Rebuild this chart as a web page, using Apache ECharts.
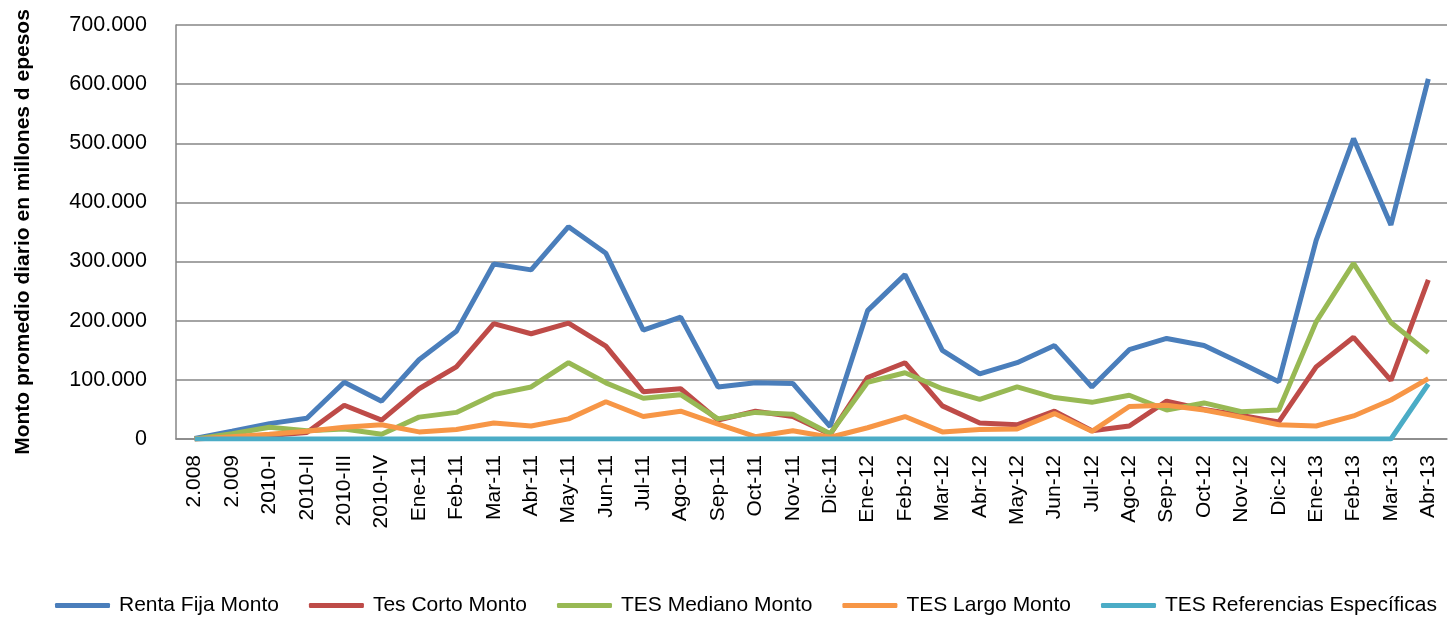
<!DOCTYPE html>
<html>
<head>
<meta charset="utf-8">
<script src="https://cdn.jsdelivr.net/npm/echarts@6/dist/echarts.min.js"></script>
<style>
  html, body { margin: 0; padding: 0; background: #fff; }
  #chart { width: 1456px; height: 617px; }
</style>
</head>
<body>
<div id="chart"></div>
<script>
// categorias del eje x
var categorias = ['2.008', '2.009', '2010-I', '2010-II', '2010-III', '2010-IV',
  'Ene-11', 'Feb-11', 'Mar-11', 'Abr-11', 'May-11', 'Jun-11', 'Jul-11', 'Ago-11',
  'Sep-11', 'Oct-11', 'Nov-11', 'Dic-11', 'Ene-12', 'Feb-12', 'Mar-12', 'Abr-12',
  'May-12', 'Jun-12', 'Jul-12', 'Ago-12', 'Sep-12', 'Oct-12', 'Nov-12', 'Dic-12',
  'Ene-13', 'Feb-13', 'Mar-13', 'Abr-13']

var rentaFija = [1000, 13000, 26000, 35000, 96000, 64000, 134000, 182000, 296000, 286000,
  359000, 314000, 184000, 206000, 88000, 95000, 94000, 21000, 217000, 278000,
  150000, 110000, 129000, 158000, 88000, 151000, 170000, 158000, 128000, 97000,
  336000, 508000, 362000, 609000]
var tesCorto = [0, 3000, 6000, 11000, 57000, 32000, 85000, 122000, 195000, 178000,
  196000, 157000, 80000, 85000, 32000, 47000, 38000, 8000, 104000, 129000,
  56000, 27000, 24000, 47000, 14000, 22000, 64000, 50000, 40000, 29000,
  122000, 172000, 99000, 269000]
var tesMediano = [0, 9000, 20000, 14000, 17000, 8000, 37000, 45000, 75000, 88000,
  129000, 95000, 69000, 75000, 34000, 45000, 42000, 9000, 96000, 112000,
  85000, 67000, 88000, 70000, 62000, 74000, 49000, 61000, 46000, 49000,
  198000, 297000, 197000, 146000]
var tesLargo = [0, 4000, 8000, 13000, 20000, 24000, 12000, 16000, 27000, 22000,
  34000, 63000, 38000, 47000, 25000, 4000, 14000, 3000, 19000, 38000,
  12000, 16000, 17000, 43000, 13000, 55000, 57000, 49000, 37000, 24000,
  22000, 39000, 66000, 102000]
var tesReferencias = [0, 0, 0, 0, 0, 0, 0, 0, 0, 0,
  0, 0, 0, 0, 0, 0, 0, 0, 0, 0,
  0, 0, 0, 0, 0, 0, 0, 0, 0, 0,
  0, 0, 0, 93000]

var nombres = ['Renta Fija Monto', 'Tes Corto Monto', 'TES Mediano Monto', 'TES Largo Monto', 'TES Referencias Específicas']
var colores = ['#4A7EBB', '#BE4B48', '#98B954', '#F79646', '#4BACC6']
var datos = [rentaFija, tesCorto, tesMediano, tesLargo, tesReferencias]

function miles(v) {
  // 700000 -> 700.000
  return String(v).replace(/\B(?=(\d{3})+(?!\d))/g, '.')
}

var myChart = echarts.init(document.getElementById('chart'))

var series = datos.map(function (d, i) {
  return {
    name: nombres[i],
    type: 'line',
    data: d,
    symbol: 'none',
    lineStyle: { width: 5, color: colores[i] },
    itemStyle: { color: colores[i] }
  }
})

var option = {
  animation: false,
  textStyle: { fontFamily: 'Liberation Sans' },
  grid: { left: 176, right: 9, top: 25, bottom: 178, outerBoundsMode: 'none' },
  legend: {
    left: 50,
    top: 590,
    icon: 'roundRect',
    itemWidth: 55,
    itemHeight: 5,
    itemGap: 30,
    textStyle: { fontSize: 21, color: '#000', fontFamily: 'Liberation Sans', padding: [0, 0, 0, 4] },
    data: nombres
  },
  xAxis: {
    type: 'category',
    data: categorias,
    boundaryGap: true,
    axisLine: { lineStyle: { color: '#868686', width: 1.5 } },
    axisTick: { show: false },
    axisLabel: { rotate: 90, interval: 0, fontSize: 21, color: '#000', margin: 16 }
  },
  yAxis: {
    type: 'value',
    min: 0,
    max: 700000,
    interval: 100000,
    name: 'Monto promedio diario en millones d epesos',
    nameLocation: 'middle',
    nameGap: 142,
    nameTextStyle: { fontSize: 21, fontWeight: 'bold', color: '#000' },
    axisLine: { show: true, lineStyle: { color: '#868686', width: 1.5 } },
    axisTick: { show: false },
    splitLine: { lineStyle: { color: '#868686', width: 1.5 } },
    axisLabel: { fontSize: 21.5, color: '#000', margin: 29, formatter: miles }
  },
  series: series
}

myChart.setOption(option)
</script>
</body>
</html>
